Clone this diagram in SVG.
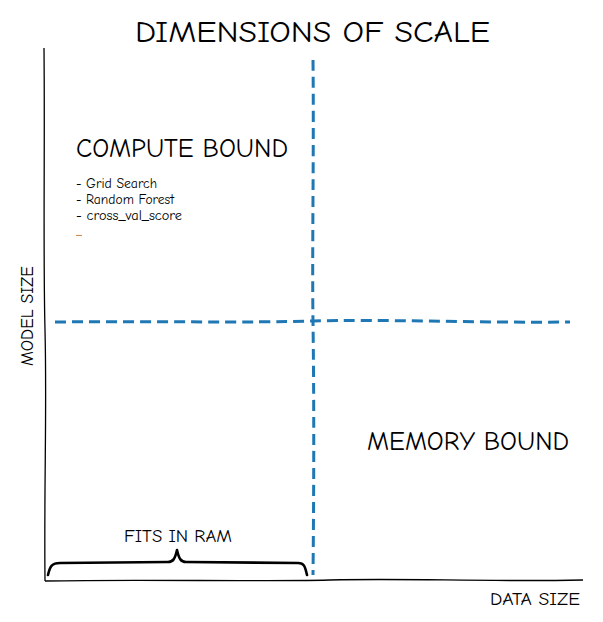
<svg xmlns="http://www.w3.org/2000/svg" width="603" height="622" viewBox="0 0 603 622">
<style>
text{font-family:"Humor Sans","Comic Neue","Comic Sans MS","Liberation Sans",sans-serif;fill:#000}
.axis{fill:none;stroke:#000;stroke-width:1.3}
.dash{fill:none;stroke:#1f77b4;stroke-width:3;stroke-dasharray:11 6}
.brace{fill:none;stroke:#000;stroke-width:2.6;stroke-linecap:round;stroke-linejoin:round}
</style>
<rect width="603" height="622" fill="#fff"/>
<g id="axes">
<path class="axis" d="M44,48 C45,150 43,250 45,330 S44,480 45,581"/>
<path class="axis" d="M45,581 C150,579 250,582 330,580 S480,582 583,580"/>
</g>
<g id="connectors">
<path class="dash" d="M313,60 C314,150 312,250 313,322 S314,480 313,575"/>
<path class="dash" d="M55,322 C150,321 250,323 313,321 S480,323 570,322"/>
<path class="brace" d="M48,575 C50,566 52,563 60,563 L168,562 C173,562 175,559 177,550 C179,559 181,562 186,562 L298,563 C304,563 305,566 307,575"/>
</g>
<g id="title"><text x="135" y="42" font-size="31" textLength="355" lengthAdjust="spacingAndGlyphs">DIMENSIONS OF SCALE</text></g>
<g id="compute">
<text x="76" y="157" font-size="26" textLength="212" lengthAdjust="spacingAndGlyphs">COMPUTE BOUND</text>
<text x="76" y="188" font-size="13" textLength="81" lengthAdjust="spacingAndGlyphs">- Grid Search</text>
<text x="76" y="204" font-size="13" textLength="98" lengthAdjust="spacingAndGlyphs">- Random Forest</text>
<text x="76" y="220" font-size="13" textLength="106" lengthAdjust="spacingAndGlyphs">- cross_val_score</text>
<text x="76" y="236" font-size="13">...</text>
</g>
<g id="memory"><text x="367" y="450" font-size="26" textLength="202" lengthAdjust="spacingAndGlyphs">MEMORY BOUND</text></g>
<g id="fits"><text x="124" y="542" font-size="17" textLength="108" lengthAdjust="spacingAndGlyphs">FITS IN RAM</text></g>
<g id="xlabel"><text x="490" y="605" font-size="17" textLength="90" lengthAdjust="spacingAndGlyphs">DATA SIZE</text></g>
<g id="ylabel"><text x="0" y="0" font-size="17" textLength="100" lengthAdjust="spacingAndGlyphs" transform="translate(33,366) rotate(-90)">MODEL SIZE</text></g>
</svg>
